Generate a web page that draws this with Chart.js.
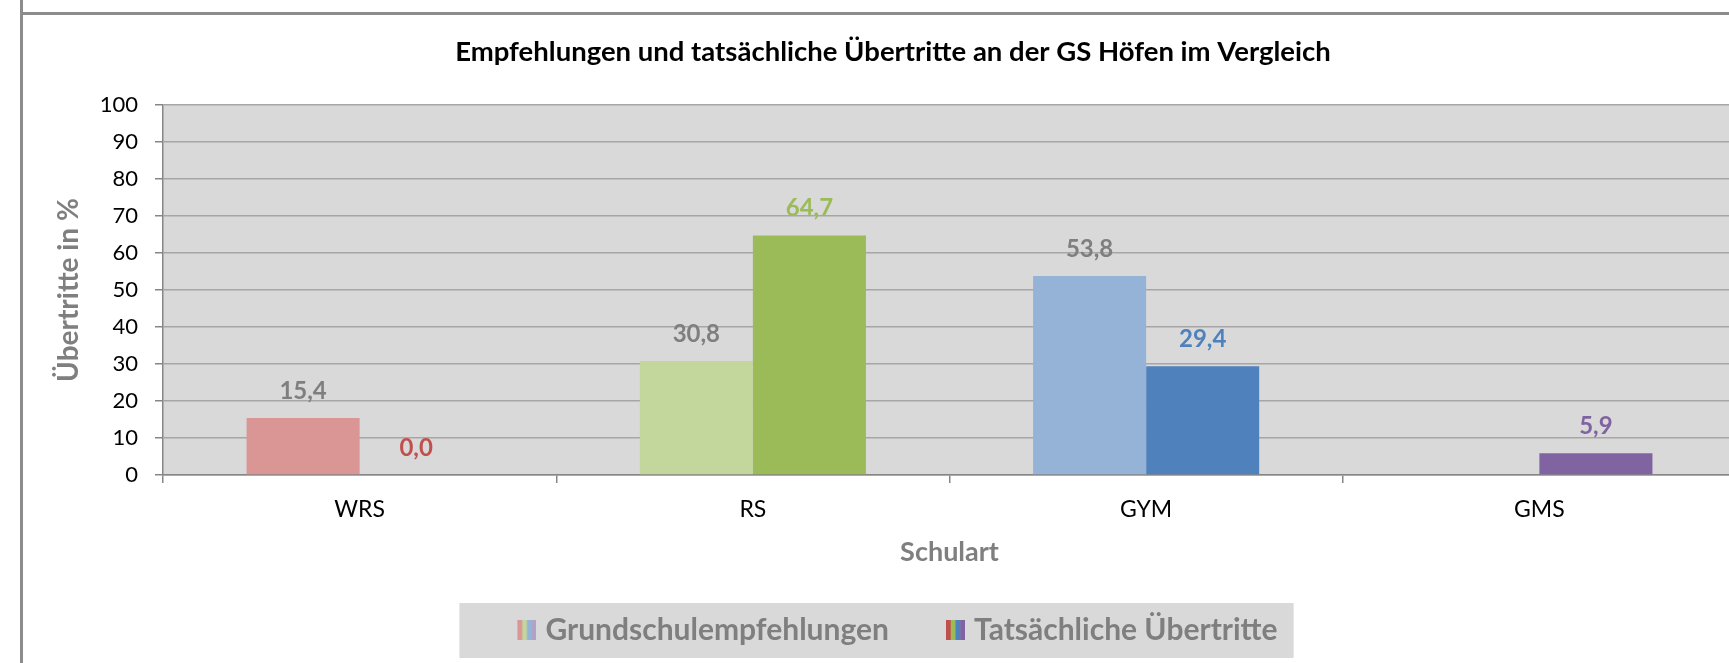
<!DOCTYPE html>
<html lang="de">
<head>
<meta charset="utf-8">
<title>Empfehlungen und tatsächliche Übertritte</title>
<script src="https://cdn.jsdelivr.net/npm/chart.js@4.4.1/dist/chart.umd.min.js"></script>
<style>
  html, body { margin: 0; padding: 0; background: #fff; overflow: hidden; }
  .wrap { position: relative; width: 1729px; height: 663px; overflow: hidden; }
  #uebertritteChart { position: absolute; left: 0; top: 0; }
  .frame-left { position: absolute; left: 20px; top: 0; width: 3px; height: 663px; background: #8c8c8c; }
  .frame-top { position: absolute; left: 20px; top: 12px; width: 1709px; height: 3px; background: #8c8c8c; }
</style>
</head>
<body>
<div class="wrap">
  <canvas id="uebertritteChart" width="1740" height="663"></canvas>
  <div class="frame-left"></div>
  <div class="frame-top"></div>
</div>
<script>
// Daten
const schularten = ['WRS', 'RS', 'GYM', 'GMS'];
const empfehlungen = [15.4, 30.8, 53.8, null];
const uebertritte = [0.0, 64.7, 29.4, 5.9];
const yTicks = [0, 10, 20, 30, 40, 50, 60, 70, 80, 90, 100];

// Farben je Schulart
const hellFarben = ['#d99694', '#c3d69b', '#95b3d7', '#b3a2c7'];
const dunkelFarben = ['#c0504d', '#9bbb59', '#4f81bd', '#8064a2'];

const ICON_W = 22;      // Platz für das Symbol in der Legende
const ICON_IMG = 34;    // Bildbreite, Streifen sitzen rechts

// kleines gestreiftes Legendensymbol
function legendIcon(colors) {
    const c = document.createElement('canvas');
    c.width = ICON_IMG;
    c.height = 20;
    const g = c.getContext('2d');
    const w = 19 / colors.length;
    colors.forEach((col, k) => {
        g.fillStyle = col;
        g.fillRect(ICON_IMG - 19 + k * w, 0, w + 0.5, 20);
    });
    return c;
}

// grauer Plot-Hintergrund und Legendenkasten
const plotBackground = {
    id: 'plotBackground',
    beforeDraw(chart) {
        const { ctx, chartArea: a } = chart;
        ctx.save();
        ctx.fillStyle = '#d9d9d9';
        ctx.fillRect(a.left, a.top, a.right - a.left, a.bottom - a.top);
        const boxes = chart.legend.legendHitBoxes;
        if (boxes && boxes.length) {
            const first = boxes[0];
            const last = boxes[boxes.length - 1];
            const cy = first.top + first.height / 2;
            const iconLeft = first.left + ICON_W / 2 + ICON_IMG / 2 - 19;
            const left = iconLeft - 58;
            const right = last.left + last.width + 16;
            ctx.fillRect(left, cy - 27, right - left, 55);
        }
        ctx.restore();
    }
};

// Werte über den Balken
const valueLabels = {
    id: 'valueLabels',
    afterDatasetsDraw(chart) {
        const { ctx } = chart;
        ctx.save();
        ctx.font = 'bold 24px Lato';
        ctx.textAlign = 'center';
        ctx.textBaseline = 'middle';
        chart.data.datasets.forEach((ds, i) => {
            chart.getDatasetMeta(i).data.forEach((bar, j) => {
                const v = ds.data[j];
                if (v === null || v === undefined) return;
                ctx.fillStyle = ds.labelColors[j];
                ctx.fillText(v.toFixed(1).replace('.', ','), bar.x, bar.y - 27);
            });
        });
        ctx.restore();
    }
};

document.addEventListener('DOMContentLoaded', () => {
    Chart.defaults.font.family = 'Lato';
    const icons = [legendIcon(hellFarben), legendIcon(dunkelFarben)];

    const ctx = document.getElementById('uebertritteChart').getContext('2d');
    new Chart(ctx, {
        type: 'bar',
        data: {
            labels: schularten,
            datasets: [{
                label: 'Grundschulempfehlungen',
                data: empfehlungen,
                backgroundColor: hellFarben,
                labelColors: ['#7f7f7f', '#7f7f7f', '#7f7f7f', '#7f7f7f'],
                barPercentage: 1,
                categoryPercentage: 0.575
            }, {
                label: 'Tatsächliche Übertritte',
                data: uebertritte,
                backgroundColor: dunkelFarben,
                labelColors: dunkelFarben,
                barPercentage: 1,
                categoryPercentage: 0.575
            }]
        },
        options: {
            responsive: false,
            animation: false,
            layout: { padding: { left: 50, right: 4, top: 0, bottom: 8 } },
            plugins: {
                title: {
                    display: true,
                    text: 'Empfehlungen und tatsächliche Übertritte an der GS Höfen im Vergleich',
                    color: '#000',
                    font: { size: 27.5, weight: 'bold' },
                    padding: { top: 35.5, bottom: 36.5 }
                },
                legend: {
                    position: 'bottom',
                    labels: {
                        usePointStyle: true,
                        pointStyleWidth: ICON_W,
                        padding: 48,
                        color: '#7f7f7f',
                        font: { size: 30, weight: 'bold' },
                        generateLabels: chart => chart.data.datasets.map((ds, i) => ({
                            text: ds.label,
                            pointStyle: icons[i],
                            fillStyle: 'transparent',
                            strokeStyle: 'transparent',
                            lineWidth: 0,
                            fontColor: '#7f7f7f',
                            hidden: false,
                            datasetIndex: i
                        }))
                    }
                },
                tooltip: { enabled: false }
            },
            scales: {
                x: {
                    afterFit: s => { s.height = 92; },
                    grid: {
                        display: true,
                        drawOnChartArea: false,
                        drawTicks: true,
                        tickLength: 8,
                        color: '#868686',
                        lineWidth: 1.5,
                        offset: true
                    },
                    border: { color: '#868686', width: 1.5 },
                    ticks: { color: '#000', font: { size: 23 }, padding: 13 },
                    title: {
                        display: true,
                        text: 'Schulart',
                        color: '#7f7f7f',
                        font: { size: 27, weight: 'bold', lineHeight: 1.1 },
                        padding: { top: 0, bottom: 0 }
                    }
                },
                y: {
                    min: 0,
                    max: 100,
                    afterFit: s => { s.width = 113; },
                    afterBuildTicks: s => { s.ticks = yTicks.map(v => ({ value: v })); },
                    grid: {
                        color: '#a6a6a6',
                        lineWidth: 1.5,
                        tickLength: 8,
                        tickColor: '#868686'
                    },
                    border: { color: '#868686', width: 1.5 },
                    ticks: { color: '#000', font: { size: 22 }, padding: 17 },
                    title: {
                        display: true,
                        text: 'Übertritte in %',
                        color: '#7f7f7f',
                        font: { size: 28, weight: 'bold' },
                        padding: { top: 2.2, bottom: 0 }
                    }
                }
            }
        },
        plugins: [plotBackground, valueLabels]
    });
});
</script>
</body>
</html>
